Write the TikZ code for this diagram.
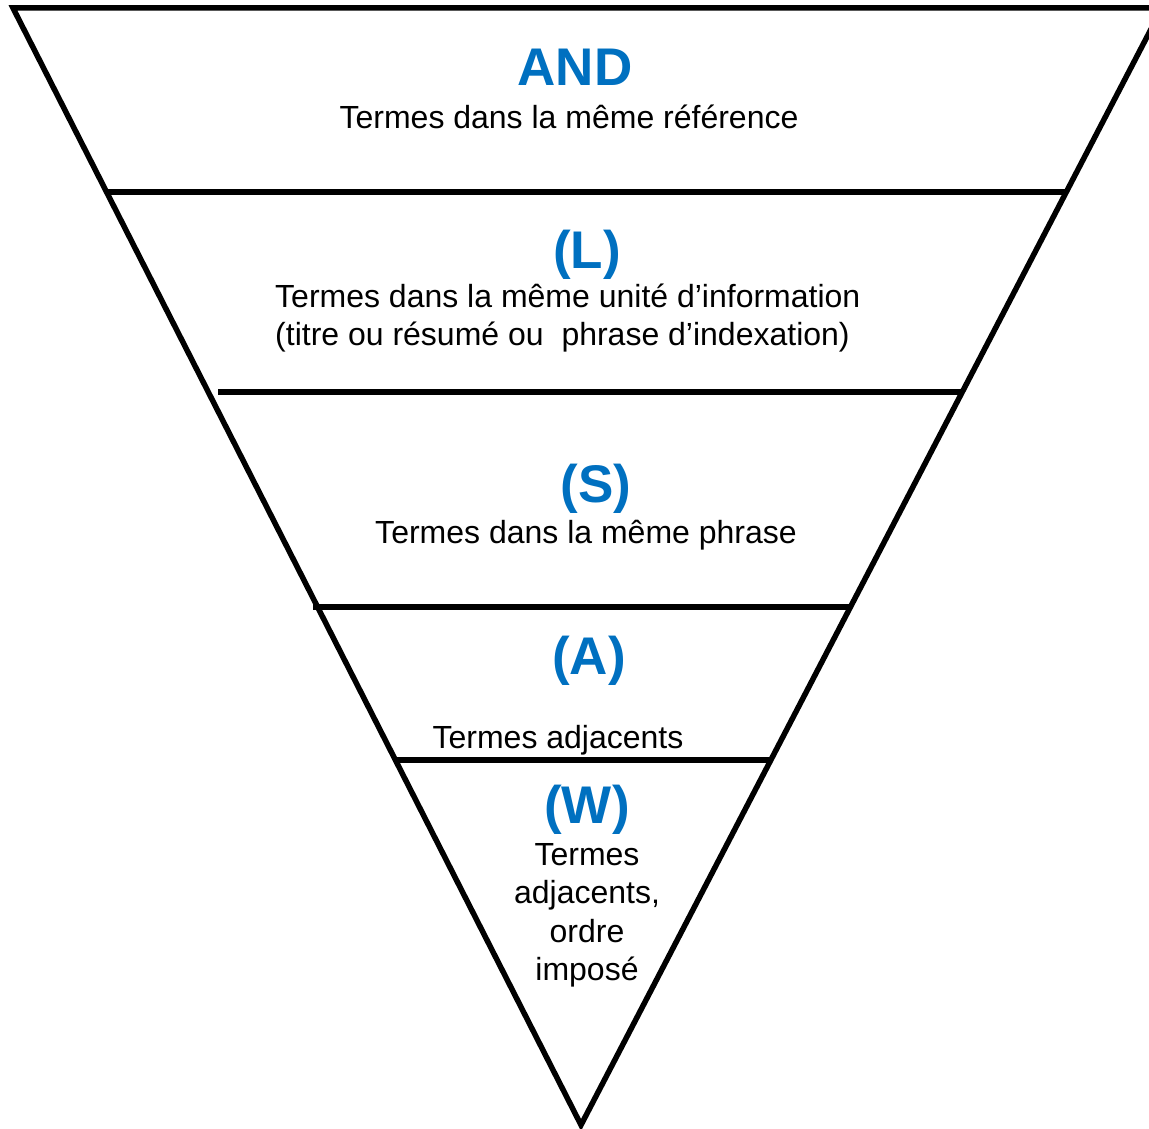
\documentclass[tikz,border=0pt]{standalone}
\usepackage{fontspec}
\setmainfont{Liberation Sans}
\definecolor{hblue}{HTML}{0070C0}
\begin{document}
\begin{tikzpicture}[x=1pt,y=-1pt,
  edge/.style={line width=5.5pt,line join=miter},
  head/.style={font=\fontsize{53}{60}\selectfont\bfseries,text=hblue,inner sep=0pt,anchor=base},
  body/.style={font=\fontsize{32}{38}\selectfont,inner sep=0pt,anchor=base}]
\useasboundingbox (0,0) rectangle (1149,1129);
\clip (0,0) rectangle (1149,1129);
\coordinate (tl) at (13,8);
\coordinate (tr) at (1162,8);
\coordinate (apex) at (581,1125);
\draw[edge] (tr) -- (tl) -- (apex) -- cycle;
\draw[edge] (106.6,192) -- (1066,192);
\draw[edge] (218,392) -- (961,392);
\draw[edge] (313,607) -- (850,607);
\draw[edge] (396,760) -- (771,760);
% texts
\node[head] (and) at (575,86) {AND};
\node[body] (t1) at (569,129) {Termes dans la même référence};
\node[head] (l) at (587,268) {(L)};
\node[body,anchor=base west] (t2) at (275,307) {Termes dans la même unité d’information};
\node[body,anchor=base west] (t3) at (275,345) {(titre ou résumé ou\ \ phrase d’indexation)};
\node[head] (s) at (596,502) {(S)};
\node[body] (t4) at (586,543) {Termes dans la même phrase};
\node[head] (a) at (589,674) {(A)};
\node[body] (t5) at (558,748) {Termes adjacents};
\node[head] (w) at (587,823) {(W)};
\node[body] (t6) at (587,865) {Termes};
\node[body] (t7) at (587,903) {adjacents,};
\node[body] (t8) at (587,942) {ordre};
\node[body] (t9) at (587,980) {imposé};
\end{tikzpicture}
\end{document}
